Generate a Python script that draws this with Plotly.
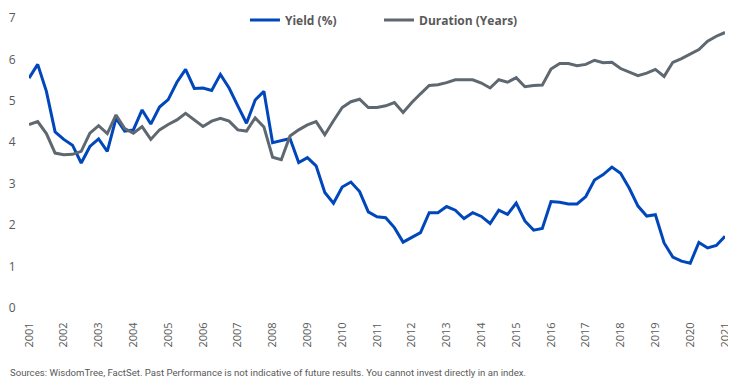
import plotly.graph_objects as go

start_year = 2001
end_year = 2021
years = list(range(start_year, end_year + 1))
year_labels = [str(y) for y in years]

# Quarterly observations, 2001 Q1 .. 2021 Q1
yield_pct = [5.55, 5.88, 5.23, 4.25, 4.07, 3.93, 3.50, 3.90, 4.08, 3.78,
             4.58, 4.27, 4.30, 4.78, 4.44, 4.85, 5.03, 5.45, 5.76, 5.30,
             5.31, 5.25, 5.64, 5.31, 4.88, 4.46, 5.02, 5.23, 3.99, 4.04,
             4.09, 3.51, 3.63, 3.43, 2.79, 2.53, 2.92, 3.04, 2.81, 2.32,
             2.20, 2.18, 1.94, 1.59, 1.71, 1.82, 2.30, 2.30, 2.45, 2.36,
             2.16, 2.30, 2.21, 2.04, 2.36, 2.26, 2.53, 2.10, 1.88, 1.92,
             2.57, 2.55, 2.51, 2.51, 2.69, 3.09, 3.22, 3.40, 3.25, 2.89,
             2.46, 2.22, 2.25, 1.57, 1.23, 1.13, 1.08, 1.58, 1.45, 1.51,
             1.73]

duration_yrs = [4.43, 4.50, 4.21, 3.74, 3.70, 3.71, 3.78, 4.22, 4.40, 4.21,
                4.66, 4.33, 4.22, 4.38, 4.07, 4.30, 4.43, 4.54, 4.70, 4.54,
                4.38, 4.51, 4.58, 4.51, 4.30, 4.27, 4.59, 4.37, 3.64, 3.58,
                4.15, 4.30, 4.42, 4.50, 4.18, 4.52, 4.84, 4.98, 5.04, 4.84,
                4.84, 4.88, 4.96, 4.72, 4.96, 5.17, 5.37, 5.39, 5.44, 5.51,
                5.51, 5.51, 5.43, 5.31, 5.51, 5.45, 5.56, 5.34, 5.37, 5.38,
                5.77, 5.90, 5.90, 5.85, 5.88, 5.98, 5.92, 5.93, 5.78, 5.70,
                5.61, 5.67, 5.76, 5.59, 5.93, 6.02, 6.13, 6.24, 6.44, 6.56,
                6.65]

quarters = [start_year + q / 4 for q in range(len(yield_pct))]

BLUE = "#0047BB"
GRAY = "#5F6870"
TEXT = "#595959"

fig = go.Figure()
fig.add_trace(go.Scatter(x=quarters, y=yield_pct, mode="lines", name="Yield (%)",
                         line=dict(color=BLUE, width=3), legend="legend"))
fig.add_trace(go.Scatter(x=quarters, y=duration_yrs, mode="lines", name="Duration (Years)",
                         line=dict(color=GRAY, width=3), legend="legend2"))

legend_font = dict(size=12, color=TEXT, family="Open Sans, sans-serif", weight="bold")

# page body adds an 8px margin, so the figure is 8px smaller and shifted accordingly
fig.update_layout(
    width=728, height=376,
    margin=dict(l=21, r=11, t=10, b=76, autoexpand=False),
    paper_bgcolor="white", plot_bgcolor="white",
    font=dict(family="Open Sans, Noto Sans, sans-serif", color=TEXT, size=12),
    showlegend=True,
    legend=dict(orientation="h", x=0.3103, xanchor="left", y=0.993, yanchor="middle",
                font=legend_font, bgcolor="rgba(0,0,0,0)", itemwidth=30),
    legend2=dict(orientation="h", x=0.5029, xanchor="left", y=0.993, yanchor="middle",
                 font=legend_font, bgcolor="rgba(0,0,0,0)", itemwidth=30),
    xaxis=dict(range=[start_year, end_year], tickmode="array", tickvals=years,
               ticktext=year_labels, tickangle=-90, showgrid=False, zeroline=False,
               showline=False, ticks="outside", ticklen=9, tickcolor="rgba(0,0,0,0)",
               tickfont=dict(size=11, color=TEXT), automargin=False),
    yaxis=dict(range=[0, 7], dtick=1, showgrid=False, zeroline=False, showline=False,
               ticks="outside", ticklen=10, tickcolor="rgba(0,0,0,0)",
               tickfont=dict(size=12, color=TEXT), automargin=False,
               ticklabeloverflow="allow"),
)

fig.add_annotation(
    text="Sources: WisdomTree, FactSet. Past Performance is not indicative of future results. You cannot invest directly in an index.",
    xref="paper", yref="paper", x=-21/696, y=-64/290, xanchor="left", yanchor="middle",
    showarrow=False, font=dict(size=9.6, color=TEXT, family="Liberation Sans Narrow, Roboto, sans-serif"),
)

fig.write_html("out.html")
